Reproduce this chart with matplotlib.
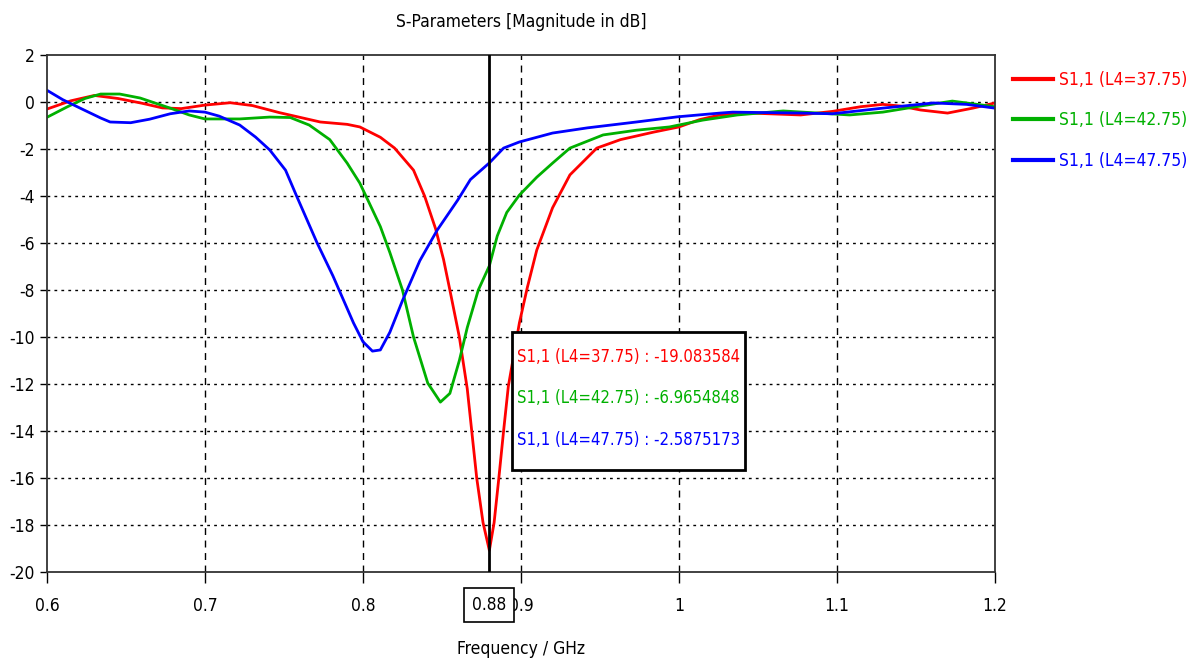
import numpy as np
import matplotlib.pyplot as plt
from matplotlib.patches import Rectangle

plt.rcParams['font.family'] = ['DejaVu Sans']
plt.rcParams['font.stretch'] = 'condensed'
plt.rcParams['axes.unicode_minus'] = False

# datos (frecuencia en GHz, magnitud en dB)
f_red = [0.600, 0.615, 0.630, 0.645, 0.660, 0.673, 0.685, 0.700, 0.716, 0.730,
         0.747, 0.760, 0.773, 0.790, 0.798, 0.811, 0.820, 0.832, 0.839, 0.846,
         0.851, 0.855, 0.861, 0.866, 0.872, 0.876, 0.880, 0.883, 0.886, 0.889,
         0.892, 0.899, 0.904, 0.910, 0.920, 0.931, 0.948, 0.963, 0.984, 1.000,
         1.013, 1.026, 1.045, 1.077, 1.097, 1.115, 1.129, 1.140, 1.153, 1.170,
         1.186, 1.200]
s_red = [-0.30, 0.05, 0.28, 0.15, -0.05, -0.25, -0.28, -0.13, -0.03, -0.15,
         -0.45, -0.65, -0.85, -0.95, -1.06, -1.50, -1.96, -2.90, -4.00, -5.40,
         -6.70, -8.00, -10.00, -12.20, -16.00, -17.90, -19.08, -17.90, -16.00, -14.00,
         -12.10, -9.40, -7.90, -6.30, -4.50, -3.10, -1.96, -1.60, -1.28, -1.06,
         -0.75, -0.55, -0.47, -0.55, -0.40, -0.20, -0.10, -0.17, -0.34, -0.47,
         -0.26, -0.04]

f_green = [0.600, 0.613, 0.624, 0.634, 0.646, 0.659, 0.678, 0.690, 0.700, 0.722,
           0.741, 0.754, 0.766, 0.779, 0.790, 0.798, 0.804, 0.811, 0.817, 0.825,
           0.832, 0.841, 0.849, 0.855, 0.861, 0.866, 0.873, 0.880, 0.885, 0.891,
           0.899, 0.910, 0.920, 0.931, 0.952, 0.973, 0.994, 1.015, 1.037, 1.066,
           1.108, 1.129, 1.150, 1.173, 1.192, 1.200]
s_green = [-0.65, -0.20, 0.15, 0.34, 0.34, 0.17, -0.26, -0.55, -0.72, -0.72,
           -0.64, -0.66, -0.98, -1.60, -2.60, -3.45, -4.30, -5.30, -6.40, -8.00,
           -10.00, -11.96, -12.77, -12.40, -11.00, -9.60, -8.00, -6.97, -5.70, -4.70,
           -3.96, -3.20, -2.60, -1.96, -1.40, -1.20, -1.06, -0.77, -0.55, -0.38,
           -0.55, -0.43, -0.20, 0.04, -0.13, -0.20]

f_blue = [0.600, 0.610, 0.621, 0.634, 0.640, 0.653, 0.665, 0.678, 0.690, 0.700,
          0.709, 0.722, 0.732, 0.741, 0.751, 0.758, 0.771, 0.781, 0.794, 0.800,
          0.806, 0.811, 0.817, 0.825, 0.836, 0.847, 0.860, 0.868, 0.880, 0.889,
          0.899, 0.920, 0.942, 0.973, 0.999, 1.026, 1.034, 1.077, 1.097, 1.129,
          1.161, 1.182, 1.200]
s_blue = [0.50, 0.10, -0.26, -0.68, -0.85, -0.88, -0.73, -0.50, -0.38, -0.43,
          -0.60, -0.98, -1.49, -2.04, -2.90, -4.00, -6.00, -7.40, -9.40, -10.20,
          -10.60, -10.55, -9.80, -8.45, -6.75, -5.45, -4.17, -3.30, -2.59, -1.96,
          -1.70, -1.32, -1.10, -0.85, -0.63, -0.47, -0.43, -0.47, -0.50, -0.26,
          -0.04, -0.10, -0.26]

etiquetas = ['S1,1 (L4=37.75)', 'S1,1 (L4=42.75)', 'S1,1 (L4=47.75)']
colores = ['#ff0000', '#00b000', '#0000ff']
f_marca = 0.88
valores_marca = ['-19.083584', '-6.9654848', '-2.5875173']

xticks = [0.6, 0.7, 0.8, 0.9, 1.0, 1.1, 1.2]
xtick_labels = ['0.6', '0.7', '0.8', '0.9', '1', '1.1', '1.2']
yticks = list(range(-20, 3, 2))

fs = 12.5

fig = plt.figure(figsize=(11.92, 6.59), dpi=100)
ax = fig.add_axes([0.0394, 0.132, 0.7953, 0.7845])

ax.plot(f_red, s_red, color=colores[0], lw=2, label=etiquetas[0])
ax.plot(f_green, s_green, color=colores[1], lw=2, label=etiquetas[1])
ax.plot(f_blue, s_blue, color=colores[2], lw=2, label=etiquetas[2])

ax.set_xlim(0.6, 1.2)
ax.set_ylim(-20, 2)
ax.set_xticks(xticks)
ax.set_xticklabels(xtick_labels)
ax.set_yticks(yticks)

# rejilla: horizontales punteadas, verticales a trazos
for y in yticks[1:-1]:
    ax.axhline(y, color='black', lw=1, ls=(0, (2, 3)), zorder=0)
for x in xticks[1:-1]:
    ax.axvline(x, color='black', lw=1, ls=(0, (5, 4)), zorder=0)

ax.tick_params(axis='x', direction='out', length=8, width=1, pad=10, labelsize=fs)
ax.tick_params(axis='y', direction='out', length=5, width=1, pad=4, labelsize=fs)
for s in ax.spines.values():
    s.set_color('#333333')
    s.set_linewidth(1.3)

# marcador en 0.88 GHz
ax.axvline(f_marca, color='black', lw=2, zorder=3)
ax.text(f_marca, -0.064, '0.88', transform=ax.get_xaxis_transform(),
        ha='center', va='center', fontsize=fs, zorder=10,
        bbox=dict(boxstyle='square,pad=0.45', fc='white', ec='black', lw=1.2))

# cuadro de valores
ax.add_patch(Rectangle((0.4905, 0.197), 0.2455, 0.267, transform=ax.transAxes,
                       fc='white', ec='black', lw=2, zorder=5))
for i, yy in enumerate([0.416, 0.337, 0.255]):
    ax.text(0.496, yy, etiquetas[i] + ' : ' + valores_marca[i], transform=ax.transAxes,
            color=colores[i], fontsize=12, va='center', ha='left', zorder=6)

ax.set_title('S-Parameters [Magnitude in dB]', fontsize=fs, pad=20)
ax.set_xlabel('Frequency / GHz', fontsize=fs, labelpad=18)

leg = ax.legend(loc='upper left', bbox_to_anchor=(1.003, 1.0), frameon=False,
                fontsize=fs, handlelength=2.3, handletextpad=0.3, labelspacing=1.3,
                labelcolor='linecolor')
for l in leg.get_lines():
    l.set_linewidth(3)

plt.savefig('out.png', dpi=100)
